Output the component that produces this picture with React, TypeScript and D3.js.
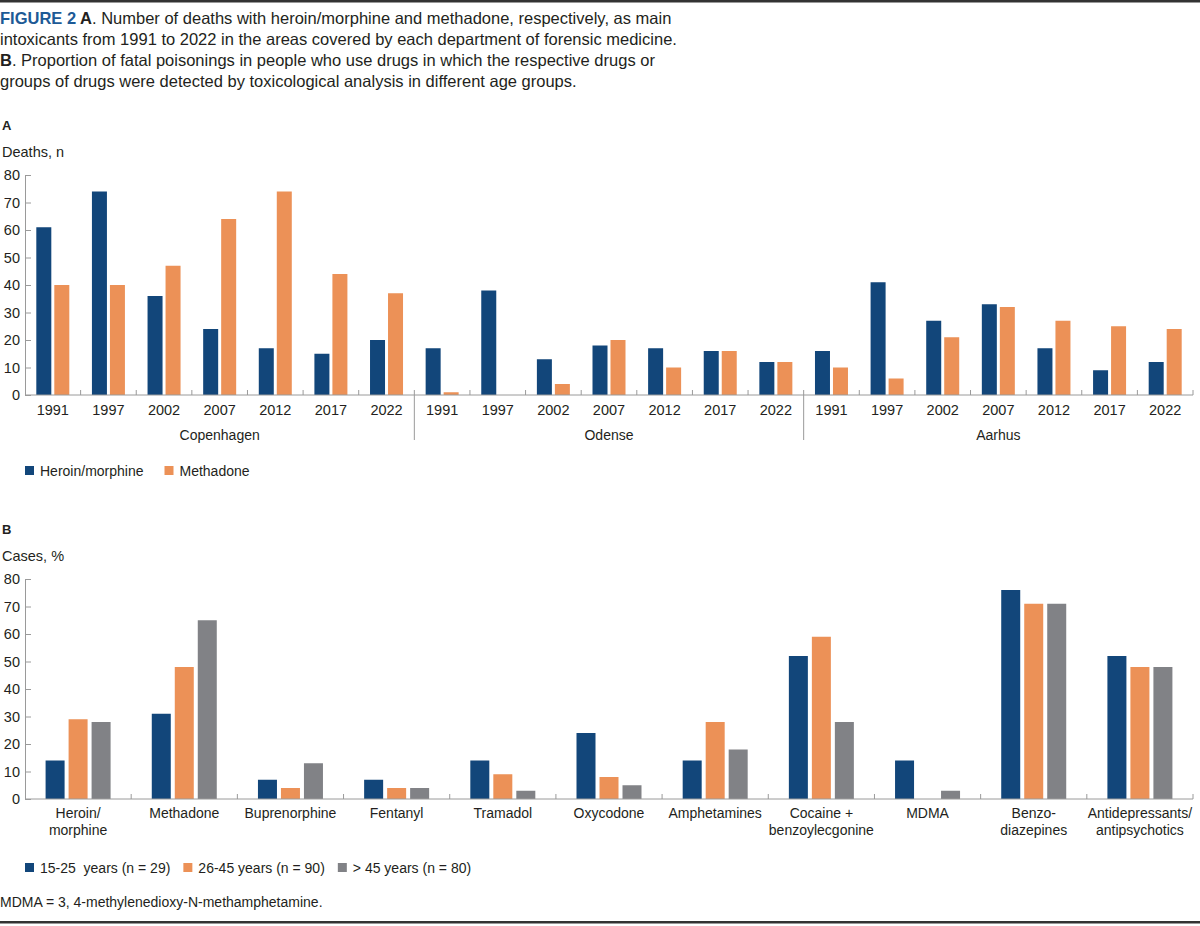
import { useEffect, useRef } from 'react';
import * as d3 from 'd3';

// Panel A data
const years = ['1991', '1997', '2002', '2007', '2012', '2017', '2022'];
const cities = ['Copenhagen', 'Odense', 'Aarhus'];
const heroinCopenhagen = [61, 74, 36, 24, 17, 15, 20];
const methadoneCopenhagen = [40, 40, 47, 64, 74, 44, 37];
const heroinOdense = [17, 38, 13, 18, 17, 16, 12];
const methadoneOdense = [1, 0, 4, 20, 10, 16, 12];
const heroinAarhus = [16, 41, 27, 33, 17, 9, 12];
const methadoneAarhus = [10, 6, 21, 32, 27, 25, 24];
const seriesA = ['Heroin/morphine', 'Methadone'];
const ticksA = [0, 10, 20, 30, 40, 50, 60, 70, 80];

// Panel B data
const drugs = [
    ['Heroin/', 'morphine'],
    ['Methadone'],
    ['Buprenorphine'],
    ['Fentanyl'],
    ['Tramadol'],
    ['Oxycodone'],
    ['Amphetamines'],
    ['Cocaine +', 'benzoylecgonine'],
    ['MDMA'],
    ['Benzo-', 'diazepines'],
    ['Antidepressants/', 'antipsychotics'],
];
const ages = ['15-25  years (n = 29)', '26-45 years (n = 90)', '> 45 years (n = 80)'];
const age15to25 = [14, 31, 7, 7, 14, 24, 14, 52, 14, 76, 52];
const age26to45 = [29, 48, 4, 4, 9, 8, 28, 59, 0, 71, 48];
const ageOver45 = [28, 65, 13, 4, 3, 5, 18, 28, 3, 71, 48];
const ticksB = [0, 10, 20, 30, 40, 50, 60, 70, 80];

const titleLines = [
    ['FIGURE 2 ', 'A', '. Number of deaths with heroin/morphine and methadone, respectively, as main'],
    ['', '', 'intoxicants from 1991 to 2022 in the areas covered by each department of forensic medicine.'],
    ['', 'B', '. Proportion of fatal poisonings in people who use drugs in which the respective drugs or'],
    ['', '', 'groups of drugs were detected by toxicological analysis in different age groups.'],
];
const footnote = 'MDMA = 3, 4-methylenedioxy-N-methamphetamine.';

export default function App() {
    let ref = useRef<SVGSVGElement>(null);

    useEffect(() => {
        const svg = d3.select(ref.current);
        svg.selectAll('*').remove();

        const font = '"Liberation Sans", Arial, Helvetica, sans-serif';
        const ink = '#231f20';
        const axisColor = '#9a9a9a';
        const blue = '#12467a';
        const orange = '#ec9157';
        const gray = '#818286';
        const left = 25, right = 1193;
        const tickFont = 14.5;

        svg.attr('font-family', font).attr('fill', ink);

        // frame lines
        svg.append('rect').attr('x', 0).attr('y', 0).attr('width', 1200).attr('height', 2.5).attr('fill', '#333');
        svg.append('rect').attr('x', 0).attr('y', 921).attr('width', 1200).attr('height', 2.5).attr('fill', '#333');

        // caption
        titleLines.forEach((line, i) => {
            const t = svg.append('text').attr('x', 0).attr('y', 24 + i * 21).attr('font-size', 16.5);
            if (line[0]) t.append('tspan').attr('fill', '#1d5a96').attr('font-weight', 'bold').text(line[0]);
            if (line[1]) t.append('tspan').attr('font-weight', 'bold').text(line[1]);
            t.append('tspan').text(line[2]);
        });

        // ---------- Panel A ----------
        const gA = svg.append('g');
        gA.append('text').attr('x', 2).attr('y', 130).attr('font-size', 13).attr('font-weight', 'bold').text('A');
        gA.append('text').attr('x', 2).attr('y', 157).attr('font-size', 14.5).text('Deaths, n');

        const keysA = cities.flatMap(c => years.map(y => `${c}|${y}`));
        const heroinAll = [heroinCopenhagen, heroinOdense, heroinAarhus];
        const methadoneAll = [methadoneCopenhagen, methadoneOdense, methadoneAarhus];
        const rowsA = cities.flatMap((c, ci) => years.map((y, yi) => ({
            key: `${c}|${y}`, year: y, values: [heroinAll[ci][yi], methadoneAll[ci][yi]]
        })));

        const xA = d3.scaleBand().domain(keysA).range([left, right]).padding(0);
        const yA = d3.scaleLinear().domain([0, 80]).range([395, 175]);
        const innerA = d3.scaleBand().domain(seriesA)
            .range([xA.bandwidth() / 2 - 16.5, xA.bandwidth() / 2 + 16.5]).paddingInner(3 / 18);

        const yAxisA = gA.append('g').attr('transform', `translate(${left},0)`)
            .call(d3.axisLeft(yA).tickValues(ticksA).tickSizeInner(-6).tickSizeOuter(0).tickPadding(5));
        yAxisA.selectAll('line, path').attr('stroke', axisColor);
        yAxisA.selectAll('text').attr('font-size', tickFont).attr('font-family', font).attr('fill', ink);

        gA.append('g').selectAll('g').data(rowsA).join('g')
            .attr('transform', d => `translate(${xA(d.key)},0)`)
            .selectAll('rect').data(d => d.values.map((v, i) => ({ v, s: seriesA[i] }))).join('rect')
            .attr('x', d => innerA(d.s)!)
            .attr('width', innerA.bandwidth())
            .attr('y', d => yA(d.v))
            .attr('height', d => yA(0) - yA(d.v))
            .attr('fill', d => d.s === seriesA[0] ? blue : orange);

        // baseline and category ticks
        gA.append('line').attr('x1', left).attr('x2', right).attr('y1', yA(0)).attr('y2', yA(0)).attr('stroke', axisColor);
        const boundsA = keysA.map(k => xA(k)! + xA.bandwidth()).slice(0, -1).concat([right]);
        gA.append('g').selectAll('line').data(boundsA).join('line')
            .attr('x1', d => d).attr('x2', d => d)
            .attr('y1', yA(0) - 5)
            .attr('y2', (d, i) => (i + 1) % years.length === 0 && i < boundsA.length - 1 ? yA(0) + 45 : yA(0))
            .attr('stroke', axisColor);

        gA.append('g').selectAll('text').data(rowsA).join('text')
            .attr('x', d => xA(d.key)! + xA.bandwidth() / 2)
            .attr('y', 415)
            .attr('text-anchor', 'middle').attr('font-size', tickFont)
            .text(d => d.year);

        gA.append('g').selectAll('text').data(cities).join('text')
            .attr('x', c => (xA(`${c}|${years[0]}`)! + xA(`${c}|${years[years.length - 1]}`)! + xA.bandwidth()) / 2)
            .attr('y', 440)
            .attr('text-anchor', 'middle').attr('font-size', 14)
            .text(c => c);

        // legend A
        let lx = left;
        seriesA.forEach((s, i) => {
            gA.append('rect').attr('x', lx).attr('y', 466).attr('width', 9).attr('height', 9).attr('fill', i === 0 ? blue : orange);
            const t = gA.append('text').attr('x', lx + 15).attr('y', 476).attr('font-size', 14).text(s);
            lx += 15 + (t.node() as SVGTextElement).getComputedTextLength() + 21;
        });

        // ---------- Panel B ----------
        const gB = svg.append('g');
        gB.append('text').attr('x', 2).attr('y', 534).attr('font-size', 13).attr('font-weight', 'bold').text('B');
        gB.append('text').attr('x', 2).attr('y', 561).attr('font-size', 14.5).text('Cases, %');

        const seriesB = [age15to25, age26to45, ageOver45];
        const colorsB = [blue, orange, gray];
        const rowsB = drugs.map((lines, i) => ({ key: lines.join(' '), lines, values: seriesB.map(s => s[i]) }));

        const xB = d3.scaleBand().domain(rowsB.map(d => d.key)).range([left, right]).padding(0);
        const yB = d3.scaleLinear().domain([0, 80]).range([799, 579]);
        const innerB = d3.scaleBand().domain(ages)
            .range([xB.bandwidth() / 2 - 32.5, xB.bandwidth() / 2 + 32.5]).paddingInner(4 / 23);

        const yAxisB = gB.append('g').attr('transform', `translate(${left},0)`)
            .call(d3.axisLeft(yB).tickValues(ticksB).tickSizeInner(-6).tickSizeOuter(0).tickPadding(5));
        yAxisB.selectAll('line, path').attr('stroke', axisColor);
        yAxisB.selectAll('text').attr('font-size', tickFont).attr('font-family', font).attr('fill', ink);

        gB.append('g').selectAll('g').data(rowsB).join('g')
            .attr('transform', d => `translate(${xB(d.key)},0)`)
            .selectAll('rect').data(d => d.values.map((v, i) => ({ v, i }))).join('rect')
            .attr('x', d => innerB(ages[d.i])!)
            .attr('width', innerB.bandwidth())
            .attr('y', d => yB(d.v))
            .attr('height', d => yB(0) - yB(d.v))
            .attr('fill', d => colorsB[d.i]);

        gB.append('line').attr('x1', left).attr('x2', right).attr('y1', yB(0)).attr('y2', yB(0)).attr('stroke', axisColor);
        gB.append('g').selectAll('line').data(rowsB.map(d => xB(d.key)! + xB.bandwidth())).join('line')
            .attr('x1', d => d).attr('x2', d => d)
            .attr('y1', yB(0) - 5).attr('y2', yB(0))
            .attr('stroke', axisColor);

        const labelsB = gB.append('g').selectAll('text').data(rowsB).join('text')
            .attr('x', d => xB(d.key)! + xB.bandwidth() / 2)
            .attr('y', 818)
            .attr('text-anchor', 'middle').attr('font-size', 14);
        labelsB.selectAll('tspan').data(d => d.lines.map(l => ({ l, x: xB(d.key)! + xB.bandwidth() / 2 }))).join('tspan')
            .attr('x', d => d.x)
            .attr('dy', (d, i) => i === 0 ? 0 : 17)
            .text(d => d.l);

        // legend B
        lx = left;
        ages.forEach((a, i) => {
            gB.append('rect').attr('x', lx).attr('y', 863).attr('width', 9).attr('height', 9).attr('fill', colorsB[i]);
            const t = gB.append('text').attr('x', lx + 15).attr('y', 873).attr('font-size', 14)
                .style('white-space', 'pre').text(a);
            lx += 15 + (t.node() as SVGTextElement).getComputedTextLength() + 13;
        });

        svg.append('text').attr('x', 0).attr('y', 907).attr('font-size', 14).text(footnote);
    }, []);

    return (
        <svg ref={ref} width={1200} height={926}
            style={{ position: 'absolute', left: 0, top: 0, background: '#fff' }} />
    );
}
